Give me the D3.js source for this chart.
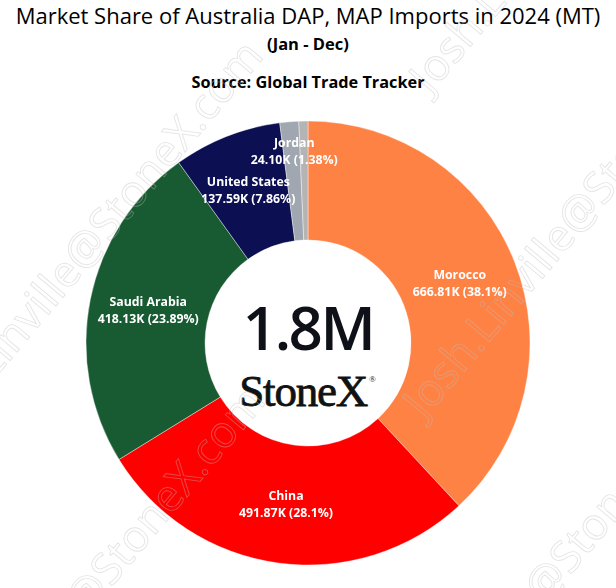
<!DOCTYPE html>
<html><head><meta charset="utf-8">
<script src="https://cdn.jsdelivr.net/npm/d3@7"></script>
<style>html,body{margin:0;padding:0;background:#fff;}svg{display:block;}</style>
</head><body>
<svg id="chart" width="616" height="588"></svg>
<script>
const countries = ["Morocco", "China", "Saudi Arabia", "United States", "Jordan", "Other"];
const values = [666.81, 491.87, 418.13, 137.59, 24.10, 11.5];        // thousand MT
const valueLabels = ["666.81K", "491.87K", "418.13K", "137.59K", "24.10K", ""];
const pctLabels = ["38.1%", "28.1%", "23.89%", "7.86%", "1.38%", ""];
const colors = ["#FF8245", "#FF0000", "#185B32", "#0C1052", "#A0A7B0", "#B4B4B4"];
const totalLabel = "1.8M";
const watermark = "Josh.Linville@StoneX.com";

const W = 616, H = 588;
const svg = d3.select("#chart");
const cx = 308, cy = 343, rOut = 222, rIn = 103, rLab = 163;

function fitText(sel, maxW) {
  let fs = parseFloat(sel.attr("font-size"));
  while (sel.node().getComputedTextLength() > maxW && fs > 8) { fs -= 0.25; sel.attr("font-size", fs); }
}

function drawWatermark(parent, op) {
  const wm = parent.append("g").attr("font-family", "'Open Sans', sans-serif").attr("font-size", 44)
    .attr("fill", "none").attr("stroke", "#bdbdbd").attr("stroke-width", 0.9).attr("opacity", op);
  const wmAnchors = [[-70, 456], [-68, 801], [424, 420], [391, 789], [430, 95]];
  wmAnchors.forEach(([x, y]) => {
    wm.append("text").attr("transform", `translate(${x},${y}) rotate(-50)`).text(watermark);
  });
}

// titles
const t1 = svg.append("text").attr("x", W/2).attr("y", 24).attr("text-anchor", "middle")
  .attr("font-family", "'Open Sans', sans-serif").attr("font-size", 22).attr("fill", "#000")
  .text("Market Share of Australia DAP, MAP Imports in 2024 (MT)");
fitText(t1, 606);
svg.append("text").attr("x", W/2).attr("y", 50).attr("text-anchor", "middle")
  .attr("font-family", "'Open Sans', sans-serif").attr("font-weight", 700).attr("font-size", 16.5).attr("fill", "#000")
  .text("(Jan - Dec)");
svg.append("text").attr("x", W/2).attr("y", 88).attr("text-anchor", "middle")
  .attr("font-family", "'Open Sans', sans-serif").attr("font-weight", 700).attr("font-size", 16.3).attr("fill", "#000")
  .text("Source: Global Trade Tracker");

// donut
const data = countries.map((c, i) => ({ name: c, value: values[i], vl: valueLabels[i], pl: pctLabels[i], color: colors[i] }));
const pie = d3.pie().value(d => d.value).sort(null);
const arcs = pie(data);
const arc = d3.arc().innerRadius(rIn).outerRadius(rOut);
const labelArc = d3.arc().innerRadius(rLab).outerRadius(rLab);
const g = svg.append("g").attr("transform", `translate(${cx},${cy})`);
g.selectAll("path").data(arcs).join("path")
  .attr("d", arc).attr("fill", d => d.data.color)
  .attr("stroke", "#fff").attr("stroke-width", 0.4);

// center
g.append("text").attr("x", 0).attr("y", 7).attr("text-anchor", "middle")
  .attr("font-family", "'Open Sans', sans-serif").attr("font-weight", 600).attr("font-size", 60).attr("fill", "#0E1117")
  .attr("letter-spacing", -2.5).text(totalLabel);
const logo = g.append("text").attr("x", -1).attr("y", 63).attr("text-anchor", "middle")
  .attr("font-family", "'Liberation Serif', 'Times New Roman', serif").attr("font-size", 45)
  .attr("fill", "#111").attr("stroke", "#111").attr("stroke-width", 0.8).attr("letter-spacing", -1.2);
logo.append("tspan").text("StoneX");
logo.append("tspan").attr("font-size", 9).attr("stroke-width", 0).attr("dy", -24).attr("dx", 2).text("®");

drawWatermark(svg, 0.4);

// labels with simple collision avoidance
const placed = [];
const lab = svg.append("g").attr("transform", `translate(${cx},${cy})`)
  .attr("font-family", "'Open Sans', sans-serif").attr("font-weight", 700)
  .attr("font-size", 12.3).attr("fill", "#fff").attr("text-anchor", "middle");
arcs.forEach(a => {
  if (!a.data.vl) return;
  let [x, y] = labelArc.centroid(a);
  const tg = lab.append("g");
  const n = tg.append("text").text(a.data.name);
  const v = tg.append("text").text(`${a.data.vl} (${a.data.pl})`);
  const w = Math.max(n.node().getComputedTextLength(), v.node().getComputedTextLength());
  const box = () => ({ x0: x - w/2, x1: x + w/2, y0: y - 17, y1: y + 16 });
  let moved = true;
  while (moved) {
    moved = false;
    const b = box();
    for (const p of placed) {
      if (b.x0 < p.x1 && b.x1 > p.x0 && b.y0 < p.y1 && b.y1 > p.y0) {
        y = p.y0 - 22; moved = true; break;
      }
    }
  }
  placed.push(box());
  n.attr("x", x).attr("y", y - 5);
  v.attr("x", x).attr("y", y + 12);
});
</script>
</body></html>
